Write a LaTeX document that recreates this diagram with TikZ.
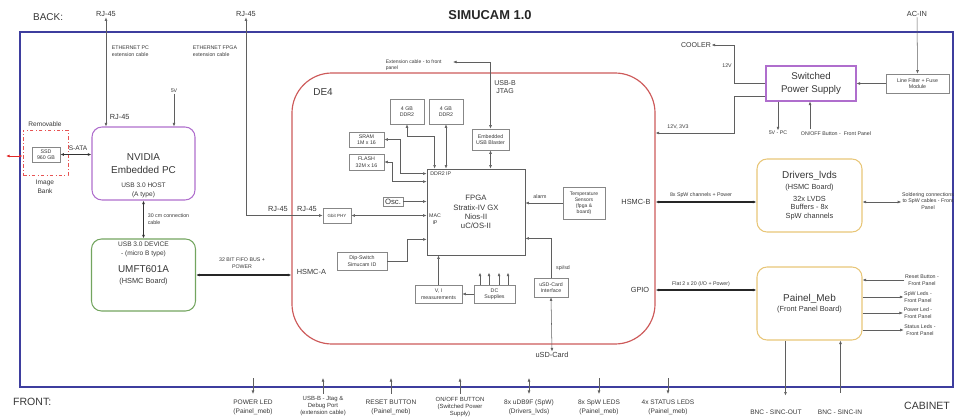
\documentclass[tikz,border=0pt]{standalone}
\usepackage{fontspec}
\setmainfont{Liberation Sans}
\usetikzlibrary{arrows.meta, positioning, calc}
\usepackage{xcolor}
\definecolor{cabinetBlue}{RGB}{62, 62, 158}
\definecolor{de4Red}{RGB}{205, 90, 90}
\definecolor{pcPurple}{RGB}{175, 110, 205}
\definecolor{umftGreen}{RGB}{115, 165, 95}
\definecolor{boardGold}{RGB}{232, 198, 120}
\definecolor{wireGray}{RGB}{95, 95, 95}
\definecolor{boxGray}{RGB}{135, 135, 135}
\definecolor{textGray}{RGB}{55, 55, 55}
\definecolor{bankRed}{RGB}{225, 40, 40}

\newcommand{\tinyTxt}{\fontsize{4.5pt}{5.6pt}\selectfont}
\newcommand{\smallTxt}{\fontsize{5.6pt}{7.6pt}\selectfont}
\newcommand{\packedTxt}{\fontsize{5.1pt}{6pt}\selectfont}
\newcommand{\labelTxt}{\fontsize{6.3pt}{7.2pt}\selectfont}
\newcommand{\midTxt}{\fontsize{6.6pt}{7.9pt}\selectfont}
\newcommand{\bigTxt}{\fontsize{8.5pt}{11.5pt}\selectfont}

\begin{document}
\begin{tikzpicture}[
        x=0.03cm, y=-0.03cm,
        >={Latex[length=3pt,width=2.4pt]},
        majorBox/.style={draw, line width=0.9pt, rounded corners=0.3cm, align=center, text=textGray, font=\bigTxt},
        chipBox/.style={draw=boxGray, line width=0.6pt, align=center, text=textGray, font=\tinyTxt, inner sep=1pt},
        tag/.style={text=textGray, font=\tinyTxt, align=center, inner sep=0.5pt},
        portTag/.style={text=textGray, font=\labelTxt, inner sep=0.5pt},
        frontTag/.style={text=textGray, font=\smallTxt, align=center, anchor=north, inner sep=0pt},
        wire/.style={draw=wireGray, line width=0.45pt},
        cable/.style={draw=black!80, line width=0.6pt},
        bus/.style={draw=black!85, line width=0.9pt}
    ]
        \clip (0,0) rectangle (955,416);

        % cabinet and titles
        \draw[cabinetBlue, line width=1.3pt] (20,32) rectangle (953,387);
        \node[font=\bigTxt, text=textGray, anchor=west] (backTag) at (29,17) {BACK:};
        \node[font=\fontsize{11pt}{13pt}\selectfont\bfseries, text=black!85] (title) at (490,15) {SIMUCAM 1.0};
        \node[font=\fontsize{9pt}{11pt}\selectfont, text=textGray, anchor=west] (frontTag) at (9,402) {FRONT:};
        \node[font=\fontsize{9pt}{11pt}\selectfont, text=textGray, anchor=east] (cabinetTag) at (954,406) {CABINET};

        % back panel ports
        \node[portTag] (rjPcTop) at (106,14) {RJ-45};
        \node[portTag] (rjFpgaTop) at (246,14) {RJ-45};
        \node[portTag] (acIn) at (917,14) {AC-IN};
        \node[tag, anchor=west, align=left] (ethPc) at (111,51) {ETHERNET PC\\extension cable};
        \node[tag, anchor=west, align=left] (ethFpga) at (192,51) {ETHERNET FPGA\\extension cable};

        % embedded pc
        \node[majorBox, draw=pcPurple, minimum width=3.09cm, minimum height=2.19cm] (nvidia) at (143.5,163.5) {NVIDIA\\Embedded PC};
        \node[tag, font=\smallTxt] (nvidiaUsb) at (143.5,190.5) {USB 3.0 HOST\\(A type)};
        \node[portTag, anchor=west] (rjPcIn) at (109,117) {RJ-45};
        \node[tag] (pcFiveV) at (174,91) {5V};
        \draw[wire, <->] (rjPcTop.south) -- (rjPcTop.south |- nvidia.north);
        \draw[wire, ->] (pcFiveV.south) -- (pcFiveV.south |- nvidia.north);

        % image bank
        \node[chipBox, minimum width=0.84cm, minimum height=0.45cm] (ssd) at (46,154.5) {SSD\\960 GB};
        \node[draw=bankRed!80, line width=0.6pt, dash dot, minimum width=1.35cm, minimum height=1.35cm] (removable) at (45.5,152.5) {};
        \node[tag, font=\smallTxt] (removableTag) at (45,124) {Removable};
        \node[tag, font=\smallTxt] (imageBank) at (45,187) {Image\\Bank};
        \coordinate (bankPort) at (6,156);
        \draw[bankRed, line width=0.8pt, <->] (bankPort) -- (removable.west |- bankPort);
        \node[tag, font=\smallTxt] (sata) at (78,148) {S-ATA};
        \draw[cable, <->] (ssd.east) -- (nvidia.west |- ssd.east);

        % usb bridge board
        \node[majorBox, draw=umftGreen, minimum width=3.12cm, minimum height=2.16cm, font=\labelTxt] (umft) at (143.5,275) {{\bigTxt UMFT601A}\\[2pt](HSMC Board)};
        \node[tag, font=\smallTxt] (umftUsb) at (143.5,249) {USB 3.0 DEVICE\\- (micro B type)};
        \draw[cable, <->] (nvidia.south) -- (umft.north);
        \node[tag, anchor=west, align=left] (usbCable) at (147,219) {30 cm connection\\cable};

        % DE4 board
        \node[draw=de4Red, line width=1pt, rounded corners=1.2cm, minimum width=10.89cm, minimum height=8.13cm] (de4) at (473.5,208.5) {};
        \node[font=\bigTxt, text=textGray] (de4Tag) at (323,92) {DE4};
        \node[tag] (fifoTag) at (242,263) {32 BIT FIFO BUS +\\POWER};
        \node[portTag, anchor=west] (hsmcA) at (296,272) {HSMC-A};
        \draw[bus, <->] (umft.east) -- (de4.west |- umft.east);

        \node[draw=wireGray, line width=0.7pt, align=center, text=textGray, font=\midTxt, minimum width=2.94cm, minimum height=2.58cm] (fpga) at (476,212) {FPGA\\Stratix-IV GX\\Nios-II\\uC/OS-II};
        \node[tag, anchor=north west] (ddrIp) at ($(fpga.north west)+(3,2)$) {DDR2 IP};
        \node[tag] (macIp) at (435,219) {MAC\\IP};

        \node[chipBox, minimum width=1.02cm, minimum height=0.75cm] (ddrA) at (407,111.5) {4 GB\\DDR2};
        \node[chipBox, minimum width=1.02cm, minimum height=0.75cm] (ddrB) at (446,111.5) {4 GB\\DDR2};
        \node[chipBox, minimum width=1.05cm, minimum height=0.45cm] (sram) at (366.5,139.5) {SRAM\\1M x 16};
        \node[chipBox, minimum width=1.05cm, minimum height=0.48cm] (flash) at (366.5,162) {FLASH\\32M x 16};
        \node[chipBox, minimum width=1.11cm, minimum height=0.63cm] (blaster) at (490.5,139.5) {Embedded\\USB Blaster};
        \node[chipBox, font=\midTxt, minimum width=0.6cm, minimum height=0.27cm] (osc) at (393,201.5) {Osc.};
        \node[chipBox, font=\fontsize{3.8pt}{4.5pt}\selectfont, minimum width=0.84cm, minimum height=0.45cm] (gbit) at (337,215.5) {Gbit PHY};
        \node[chipBox, minimum width=1.5cm, minimum height=0.54cm] (dip) at (362,261) {Dip-Switch\\Simucam ID};
        \node[chipBox, minimum width=1.41cm, minimum height=0.54cm] (vi) at (438.5,294) {V, I\\measurements};
        \node[chipBox, minimum width=1.23cm, minimum height=0.54cm] (dc) at (494.5,294) {DC\\Supplies};
        \node[chipBox, font=\fontsize{4.3pt}{5pt}\selectfont, minimum width=1.26cm, minimum height=0.96cm] (temp) at (584,203) {Temperature\\Sensors\\(fpga \&\\board)};
        \node[chipBox, minimum width=1.02cm, minimum height=0.57cm] (usd) at (551,287.5) {uSD-Card\\Interface};

        \draw[wire, <->] (ddrA.south) -- ++(0,12) -| ($(fpga.north west)+(8,0)$);
        \draw[wire, <->] (ddrB.south) -- (ddrB.south |- fpga.north);
        \draw[wire, <->] (sram.east) -- ++(16,0) |- ($(fpga.north west)+(0,5)$);
        \draw[wire, <->] (flash.east) -- ++(8,0) |- ($(fpga.north west)+(0,13)$);
        \draw[wire, ->] (osc.east) -- (fpga.west |- osc.east);
        \draw[wire, <->] (gbit.east) -- (fpga.west |- gbit.east);
        \draw[wire, <->] (rjFpgaTop.south) |- (gbit.west);
        \node[portTag] (rjFpgaOut) at (278,209) {RJ-45};
        \node[portTag] (rjFpgaIn) at (307,209) {RJ-45};
        \draw[wire, ->] (dip.east) -- ++(20,0) |- ($(fpga.south west)+(0,-16)$);
        \draw[wire, ->] (vi.north) -- (vi.north |- fpga.south);
        \draw[wire, ->] (dc.west) -- (vi.east);
        \foreach \dx in {-14.5,-5.5,4.5,13.5}
            \draw[wire, ->] ($(dc.north)+(\dx,0)$) -- ++(0,-12);
        \draw[wire, ->] (temp.west) -- (fpga.east |- temp.west);
        \node[tag] (alarmTag) at (540,197) {alarm};
        \draw[wire, ->] (usd.north) |- ($(fpga.south east)+(0,-17)$);
        \node[tag] (spiTag) at (563,268) {spi/sd};
        \node[portTag] (usdCard) at (552,355) {uSD-Card};
        \draw[wire, <->] (usd.south) -- (usdCard.north);

        % jtag
        \draw[wire, <->] (blaster.south) -- (blaster.south |- fpga.north);
        \coordinate (jtagEnd) at (453,62);
        \draw[wire, <->] (jtagEnd) -| (blaster.north);
        \node[tag, anchor=west, align=left, font=\fontsize{4.3pt}{5.2pt}\selectfont] (jtagCable) at (385,65) {Extension cable - to front\\panel};
        \node[portTag, align=center, font=\fontsize{6pt}{6.8pt}\selectfont] (jtagTag) at (505,87) {USB-B\\JTAG};

        % power
        \node[majorBox, draw=pcPurple, sharp corners, minimum width=2.7cm, minimum height=1.05cm, font=\fontsize{8.3pt}{11pt}\selectfont] (psu) at (811,83.5) {Switched\\Power Supply};
        \node[chipBox, minimum width=1.89cm, minimum height=0.57cm] (filter) at (917.5,83.5) {Line Filter + Fuse\\Module};
        \draw[wire, ->] (acIn.south) -- (filter.north);
        \draw[wire, ->] (filter.west) -- (psu.east);
        \node[portTag, font=\fontsize{6pt}{7pt}\selectfont] (cooler) at (696,45) {COOLER};
        \node[tag] (coolerV) at (727,66) {12V};
        \draw[wire, ->] (psu.west) -- ++(-31,0) |- (cooler.east);
        \draw[wire, ->] ($(psu.west)+(0,13)$) -- ++(-31,0) |- ($(de4.east)+(0,-75.5)$);
        \node[tag] (boardPower) at (678,127) {12V, 3V3};
        \node[tag] (psuFiveV) at (778,133) {5V - PC};
        \draw[wire, ->] (psu.south -| psuFiveV) -- (psuFiveV.north);
        \node[tag] (psuOnOff) at (836,134) {ON/OFF Button -\ \ Front Panel};
        \coordinate (onOffIn) at (810,129);
        \draw[wire, ->] (onOffIn) -- (onOffIn |- psu.south);

        % drivers board
        \node[majorBox, draw=boardGold, minimum width=3.15cm, minimum height=2.19cm, font=\labelTxt] (drivers) at (809.5,195.5) {{\bigTxt Drivers\_lvds}\\[2pt](HSMC Board)\\[3pt]32x LVDS\\Buffers - 8x\\SpW channels};
        \node[portTag] (hsmcB) at (636,202) {HSMC-B};
        \node[tag] (spwTag) at (701,195) {8x SpW channels + Power};
        \draw[bus, <->] (de4.east |- hsmcB) -- (drivers.west |- hsmcB);
        \node[tag] (soldering) at (928,201) {Soldering connections\\to SpW cables - Front\\Panel};
        \draw[wire, <->] (drivers.east |- hsmcB) -- (soldering.west |- hsmcB);

        % front panel board
        \node[majorBox, draw=boardGold, minimum width=3.15cm, minimum height=2.19cm, font=\labelTxt] (painel) at (809.5,303.5) {{\bigTxt Painel\_Meb}\\[1pt](Front Panel Board)};
        \node[portTag] (gpio) at (640,290) {GPIO};
        \node[tag] (flatTag) at (701,284) {Flat 2 x 20 (I/O + Power)};
        \draw[bus, <->] (de4.east |- gpio) -- (painel.west |- gpio);
        \node[tag] (resetTag) at (922,280) {Reset Button -\\Front Panel};
        \node[tag] (spwLedTag) at (918,297) {SpW Leds -\\Front Panel};
        \node[tag] (powerLedTag) at (918,313) {Power Led -\\Front Panel};
        \node[tag] (statusLedTag) at (920,330) {Status Leds -\\Front Panel};
        \draw[wire, ->] (resetTag.west) -- (painel.east |- resetTag.west);
        \draw[wire, ->] (painel.east |- spwLedTag.west) -- (spwLedTag.west);
        \draw[wire, ->] (painel.east |- powerLedTag.west) -- (powerLedTag.west);
        \draw[wire, ->] (painel.east |- statusLedTag.west) -- (statusLedTag.west);
        \node[frontTag] (bncOut) at (776,410) {BNC - SINC-OUT};
        \node[frontTag] (bncIn) at (840,410) {BNC - SINC-IN};
        \draw[wire, ->] ($(painel.south west)+(29,0)$) -- ++(0,55);
        \draw[wire, <-] ($(painel.south west)+(84,0)$) -- ++(0,52);

        % front panel connectors
        \node[frontTag] (powerLed) at (253,400) {POWER LED\\(Painel\_meb)};
        \node[frontTag, font=\packedTxt] (usbJtag) at (323,396.5) {USB-B - Jtag \&\\Debug Port\\(extension cable)};
        \node[frontTag] (resetBtn) at (391,400) {RESET BUTTON\\(Painel\_meb)};
        \node[frontTag, font=\packedTxt] (onOffBtn) at (460,396.5) {ON/OFF BUTTON\\(Switched Power\\Supply)};
        \node[frontTag] (spwPorts) at (529,400) {8x uDB9F (SpW)\\(Drivers\_lvds)};
        \node[frontTag] (spwLeds) at (599,400) {8x SpW LEDS\\(Painel\_meb)};
        \node[frontTag] (statusLeds) at (668,400) {4x STATUS LEDS\\(Painel\_meb)};
        \draw[wire, ->] ($(powerLed.north)+(0,-22)$) -- ($(powerLed.north)+(0,-6)$);
        \draw[wire, <-] ($(usbJtag.north)+(0,-18.5)$) -- ($(usbJtag.north)+(0,-3)$);
        \draw[wire, <-] ($(resetBtn.north)+(0,-22)$) -- ($(resetBtn.north)+(0,-6)$);
        \draw[wire, <-] ($(onOffBtn.north)+(0,-18.5)$) -- ($(onOffBtn.north)+(0,-3)$);
        \draw[wire, <->] ($(spwPorts.north)+(0,-22)$) -- ($(spwPorts.north)+(0,-6)$);
        \draw[wire, ->] ($(spwLeds.north)+(0,-22)$) -- ($(spwLeds.north)+(0,-6)$);
        \draw[wire, ->] ($(statusLeds.north)+(0,-22)$) -- ($(statusLeds.north)+(0,-6)$);
    \end{tikzpicture}
\end{document}
